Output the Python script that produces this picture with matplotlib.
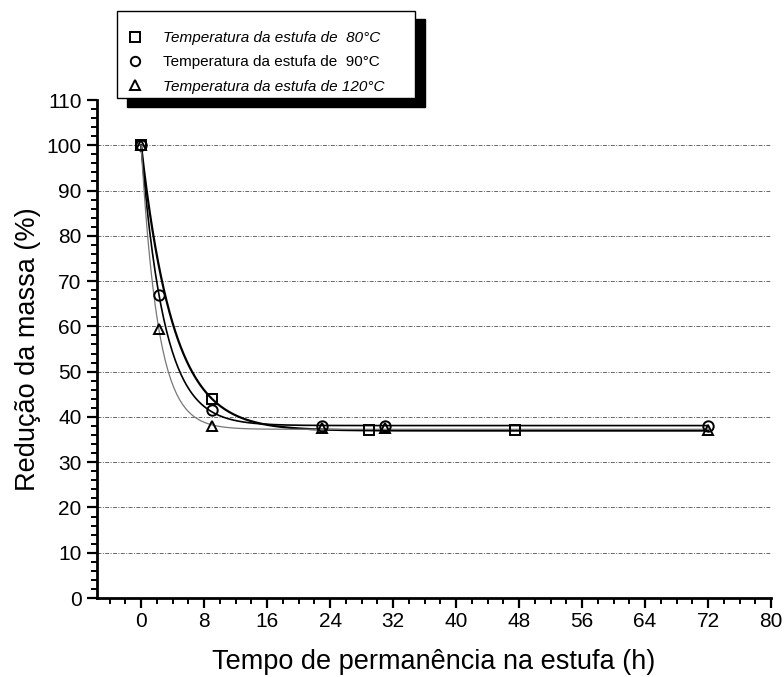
import matplotlib
matplotlib.use('Agg')
import matplotlib.pyplot as plt
import numpy as np
from matplotlib.ticker import MultipleLocator

plt.rcParams['font.family'] = ['Liberation Sans', 'DejaVu Sans']

# dados
t_80 = [0, 9, 29, 47.5]
m_80 = [100, 44, 37, 37]
t_90 = [0, 2.25, 9, 23, 31, 72]
m_90 = [100, 67, 41.5, 38, 38, 38]
t_120 = [0, 2.25, 9, 23, 31, 72]
m_120 = [100, 59.5, 38, 37.5, 37.5, 37]
labels = ['Temperatura da estufa de  80°C',
          'Temperatura da estufa de  90°C',
          'Temperatura da estufa de 120°C']


def exp_fit(x, y):
    # ajuste y = y0 + A*exp(-x/t) (busca em t, minimos quadrados no resto)
    x = np.asarray(x, float)
    y = np.asarray(y, float)
    best = None
    for t in np.linspace(0.5, 12, 3000):
        M = np.column_stack([np.ones_like(x), np.exp(-x / t)])
        coef, res, _, _ = np.linalg.lstsq(M, y, rcond=None)
        r = np.sum((M @ coef - y) ** 2)
        if best is None or r < best[0]:
            best = (r, coef, t)
    _, coef, t = best
    return lambda xx: coef[0] + coef[1] * np.exp(-xx / t)


fig = plt.figure(figsize=(7.84, 6.77), dpi=100)
ax = fig.add_axes([97 / 784, 1 - 598 / 677, (771 - 97) / 784, (598 - 100) / 677])

xs = np.linspace(0, 72, 400)
ax.plot(xs, exp_fit(t_80, m_80)(xs), color='black', lw=1.6, zorder=3)
ax.plot(xs, exp_fit(t_90, m_90)(xs), color='black', lw=1.2, zorder=3)
ax.plot(xs, exp_fit(t_120, m_120)(xs), color='#777777', lw=0.9, zorder=3)

mk = dict(mfc='none', mec='black', mew=1.4, ms=7.5, ls='none', zorder=4)
h1, = ax.plot(t_80, m_80, marker='s', **mk)
h2, = ax.plot(t_90, m_90, marker='o', **mk)
h3, = ax.plot(t_120, m_120, marker='^', **mk)

for yv in range(10, 101, 10):
    ax.axhline(yv, color='#666666', lw=0.7, ls=(0, (4, 1.5, 1, 1.5)), zorder=1)

ax.set_xlim(-5.6, 80)
ax.set_ylim(0, 110)
ax.xaxis.set_major_locator(MultipleLocator(8))
ax.xaxis.set_minor_locator(MultipleLocator(2))
ax.yaxis.set_major_locator(MultipleLocator(10))
ax.yaxis.set_minor_locator(MultipleLocator(2))

for s in ['top', 'right']:
    ax.spines[s].set_visible(False)
for s in ['left', 'bottom']:
    ax.spines[s].set_linewidth(2)

ax.tick_params(which='major', length=7, width=1.6, labelsize=15, direction='out')
ax.tick_params(which='minor', length=4, width=1.4, direction='out')
ax.tick_params(axis='x', pad=3)
ax.tick_params(axis='y', pad=4)

ax.set_xlabel('Tempo de permanência na estufa (h)', fontsize=19.5, labelpad=13)
ax.set_ylabel('Redução da massa (%)', fontsize=19.5, labelpad=4)

leg = fig.legend([h1, h2, h3], labels, loc='upper left',
                 bbox_to_anchor=(117 / 784, 1 - 102 / 677, 298 / 784, 91 / 677),
                 bbox_transform=fig.transFigure, borderaxespad=0, mode='expand',
                 fontsize=11, frameon=True, fancybox=False,
                 title=' ', title_fontsize=4,
                 shadow={'color': 'black', 'alpha': 1, 'ox': 7, 'oy': -6},
                 handlelength=1.75, handletextpad=0.95, borderpad=0.3,
                 labelspacing=0.68, markerscale=0.9)
leg.get_frame().set_edgecolor('black')
leg.get_frame().set_linewidth(1.0)
for i, txt in enumerate(leg.get_texts()):
    if i != 1:
        txt.set_style('italic')

fig.savefig('out.png', dpi=100)
